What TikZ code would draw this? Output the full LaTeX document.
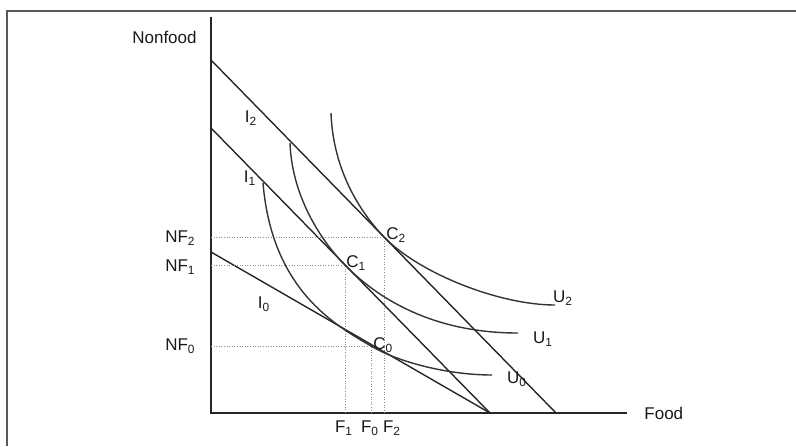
\documentclass[tikz,border=0pt]{standalone}
\usepackage{fontspec}
\setmainfont{Liberation Sans}
\usepackage{tikz}
\usetikzlibrary{calc}

\begin{document}
\begin{tikzpicture}[
  x=0.5pt, y=-0.5pt,
  font=\fontsize{8.5}{10}\selectfont,
  frame/.style={draw=black!65, line width=0.8pt},
  axis/.style={draw=black!85, line width=0.75pt},
  budget/.style={draw=black!85, line width=0.7pt},
  icurve/.style={draw=black!80, line width=0.7pt},
  guide/.style={draw=black!45, line width=0.45pt, dash pattern=on 0.5pt off 0.8pt},
  lbl/.style={inner sep=1pt, text=black!90}
]
\useasboundingbox (0,0) rectangle (796,446);

% frame
\draw[frame] (7,446) -- (7,11) -- (796,11);

% axes
\coordinate (O) at (211,413);
\coordinate (ytop) at (211,17);
\coordinate (xend) at (627,413);
\draw[axis] (ytop) -- (O) -- (xend);
\node[lbl, anchor=east] (nonfood) at (199,37) {Nonfood};
\node[lbl, anchor=west] (food) at (642,413) {Food};

% budget lines
\coordinate (I2a) at (211,60);
\coordinate (I2b) at (556,413);
\coordinate (I1a) at (211,128);
\coordinate (I1b) at (490,413);
\coordinate (I0a) at (211,252);
\draw[budget] (I2a) -- (I2b);
\draw[budget] (I1a) -- (I1b);
\draw[budget] (I0a) -- (I1b);
\node[lbl] (i2) at (251,118) {I\textsubscript{2}};
\node[lbl] (i1) at (250,178) {I\textsubscript{1}};
\node[lbl] (i0) at (264,304) {I\textsubscript{0}};

% tangency points
\coordinate (C2) at (384,237);
\coordinate (C1) at (345,265);
\coordinate (C0) at (371,346);

% dotted guides
\draw[guide] (O |- C2) -- (C2) -- (C2 |- O);
\draw[guide] (O |- C1) -- (C1) -- (C1 |- O);
\draw[guide] (O |- C0) -- (C0) -- (C0 |- O);

% indifference curves
\draw[icurve] (331,113) .. controls (333,170) and (360,212) .. (C2)
  .. controls (420,274) and (500,305) .. (555,305);
\draw[icurve] (290,143) .. controls (292,200) and (325,245) .. (C1)
  .. controls (375,296) and (430,333) .. (518,333);
\draw[icurve] (263,183) .. controls (272,290) and (335,325) .. (C0)
  .. controls (400,363) and (450,375) .. (492,375);
\node[lbl] (u2) at (563,298) {U\textsubscript{2}};
\node[lbl] (u1) at (543,339) {U\textsubscript{1}};
\node[lbl] (u0) at (517,379) {U\textsubscript{0}};

% point labels
\node[lbl, anchor=west] (c2) at (384,235) {C\textsubscript{2}};
\node[lbl, anchor=west] (c1) at (344,263) {C\textsubscript{1}};
\node[lbl, anchor=west] (c0) at (371,345) {C\textsubscript{0}};

% axis labels
\node[lbl, anchor=east] (nf2) at (198,238) {NF\textsubscript{2}};
\node[lbl, anchor=east] (nf1) at (198,267) {NF\textsubscript{1}};
\node[lbl, anchor=east] (nf0) at (198,346) {NF\textsubscript{0}};
\node[lbl] (f1) at (344,428) {F\textsubscript{1}};
\node[lbl] (f0) at (370,428) {F\textsubscript{0}};
\node[lbl] (f2) at (392,428) {F\textsubscript{2}};
\end{tikzpicture}
\end{document}
